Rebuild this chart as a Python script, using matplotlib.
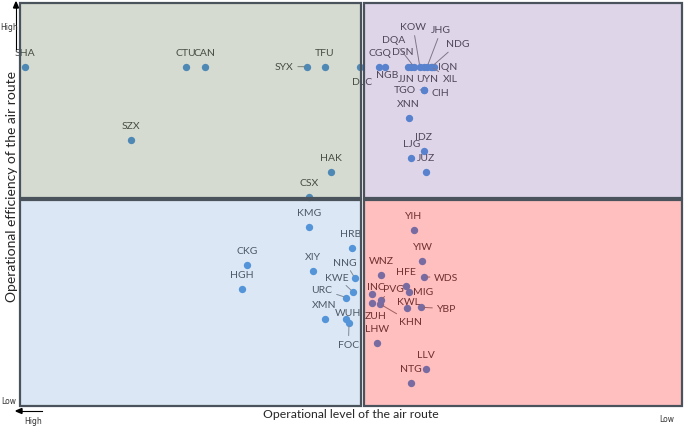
import matplotlib
matplotlib.use('Agg')
import matplotlib.pyplot as plt
from matplotlib.patches import Rectangle

# airport codes with position scores (x: operational level, high on the left; y: efficiency)
codes = ['SHA', 'CTU', 'CAN', 'SYX', 'TFU', 'DLC', 'SZX', 'HAK', 'CSX',
         'CGQ', 'NGB', 'DSN', 'JJN', 'DQA', 'KOW', 'UYN', 'JHG', 'XIL', 'NDG', 'IQN',
         'TGO', 'CIH', 'XNN', 'IDZ', 'LJG', 'JUZ',
         'YIH', 'YIW', 'WNZ', 'WDS', 'HFE', 'MIG', 'INC', 'PVG', 'ZUH', 'KHN',
         'KWL', 'YBP', 'LHW', 'LLV', 'NTG',
         'KMG', 'HRB', 'CKG', 'XIY', 'HGH', 'NNG', 'KWE', 'URC', 'XMN', 'WUH', 'FOC']
xs = [0.7, 25.0, 27.9, 43.4, 46.0, 51.4, 16.7, 47.0, 43.7,
      54.3, 55.1, 58.6, 59.1, 59.5, 60.4, 61.0, 61.5, 62.1, 62.2, 62.6,
      61.0, 61.1, 58.7, 61.0, 59.1, 61.3,
      59.5, 60.8, 54.6, 61.0, 58.3, 58.7, 53.1, 54.5, 53.2, 54.4,
      58.4, 60.6, 53.9, 61.3, 59.0,
      43.7, 50.2, 34.3, 44.3, 33.5, 50.6, 50.3, 49.3, 46.0, 49.2, 49.7]
ys = [84.2, 84.2, 84.2, 84.2, 84.2, 84.2, 66.0, 58.1, 51.8,
      84.2, 84.2, 84.2, 84.2, 84.2, 84.2, 84.2, 84.2, 84.2, 84.2, 84.2,
      78.4, 78.3, 71.5, 63.2, 61.5, 58.1,
      43.7, 36.0, 32.5, 32.0, 29.9, 28.4, 27.8, 26.3, 25.5, 25.3,
      24.2, 24.5, 15.6, 9.1, 5.7,
      44.4, 39.2, 34.9, 33.6, 29.0, 31.7, 28.3, 26.9, 21.5, 21.5, 20.6]

# label offsets in pixels (dx, dy up); True = draw leader line
offsets = {
    'SYX': (-23, 0, True), 'DLC': (2, -15, False), 'NGB': (2, -7.7, False),
    'DSN': (-5, 14.7, False), 'JJN': (-4.5, -12.3, False), 'DQA': (-20.7, 26.7, True),
    'KOW': (-6.7, 39.7, True), 'UYN': (3.5, -12.3, False), 'JHG': (14, 36.7, True),
    'NDG': (25.7, 22.7, True), 'IQN': (13.3, 0, False), 'XIL': (19, -12.3, True),
    'TGO': (-19, 1, True), 'CIH': (15.5, -2.5, False),
    'WDS': (22.3, 0, True), 'MIG': (14.7, 0, False), 'INC': (4.7, 7.3, False),
    'PVG': (12.7, 11.7, True), 'ZUH': (3.3, -12.4, False), 'KHN': (30, -17.7, True),
    'KWL': (2.3, 7.3, False), 'YBP': (25, -1.4, True),
    'HRB': (-1.6, 14.7, False), 'NNG': (-9.7, 16, True), 'KWE': (-15.7, 14.7, True),
    'URC': (-24.3, 8, True), 'WUH': (2.6, 7, False), 'FOC': (-0.6, -21.3, True),
}

W, H = 685, 427
fig = plt.figure(figsize=(W / 100, H / 100), dpi=100)
ax = fig.add_axes([20 / W, 20 / H, 662 / W, 403 / H])
ax.set_xlim(0, 100)
ax.set_ylim(0, 100)
ax.axis('off')

ax.scatter(xs, ys, s=28, color='#4a90d9', zorder=3, linewidths=0)

for c, x, y in zip(codes, xs, ys):
    dx, dy, lead = offsets.get(c, (0, 14.5, False))
    kw = {}
    if lead:
        kw['arrowprops'] = dict(arrowstyle='-', color='#808080', lw=0.7,
                                shrinkA=1, shrinkB=2)
    ax.annotate(c, (x, y), xytext=(dx * 0.72, dy * 0.72), textcoords='offset points',
                ha='center', va='center', fontsize=7.5, family='Lato',
                color='#404040', zorder=4, **kw)

# quadrant overlays
quads = [((0, 51.6), 51.5, 48.4, '#5b734b'),
         ((51.9, 51.6), 48.1, 48.4, '#835bab'),
         ((0, 0), 51.5, 51.2, '#73a3d7'),
         ((51.9, 0), 48.1, 51.2, '#ff0000')]
for (x0, y0), w, h, col in quads:
    ax.add_patch(Rectangle((x0, y0), w, h, facecolor=col, alpha=0.25,
                           edgecolor='none', zorder=5, clip_on=False))
    ax.add_patch(Rectangle((x0, y0), w, h, facecolor='none', edgecolor='#4a535c',
                           lw=1.6, zorder=6, clip_on=False))

# axis arrows and labels
fig.add_artist(plt.Line2D([16 / W, 16 / W], [1 - 50 / H, 1 - 8 / H], color='black', lw=0.8))
fig.patches.append(plt.Polygon([[13.5 / W, 1 - 9 / H], [18.5 / W, 1 - 9 / H], [16 / W, 1 - 3 / H]],
                               closed=True, color='black', transform=fig.transFigure))
fig.add_artist(plt.Line2D([21 / W, 42 / W], [1 - 412 / H, 1 - 412 / H], color='black', lw=0.8))
fig.patches.append(plt.Polygon([[22 / W, 1 - 409.5 / H], [22 / W, 1 - 414.5 / H], [16 / W, 1 - 412 / H]],
                               closed=True, color='black', transform=fig.transFigure))

fig.text(9 / W, 1 - 28 / H, 'High', fontsize=5.5, ha='center', va='center', color='#333333')
fig.text(9 / W, 1 - 402 / H, 'Low', fontsize=5.5, ha='center', va='center', color='#333333')
fig.text(33 / W, 1 - 422 / H, 'High', fontsize=5.5, ha='center', va='center', color='#333333')
fig.text(667 / W, 1 - 420 / H, 'Low', fontsize=5.5, ha='center', va='center', color='#333333')

fig.text(351 / W, 1 - 415 / H, 'Operational level of the air route', fontsize=8.8,
         family='Lato', ha='center', va='center', color='#262626')
fig.text(12 / W, 1 - 187 / H, 'Operational efficiency of the air route', fontsize=10,
         family='Lato', ha='center', va='center', rotation=90, color='#262626')

fig.savefig('out.png', dpi=100)
